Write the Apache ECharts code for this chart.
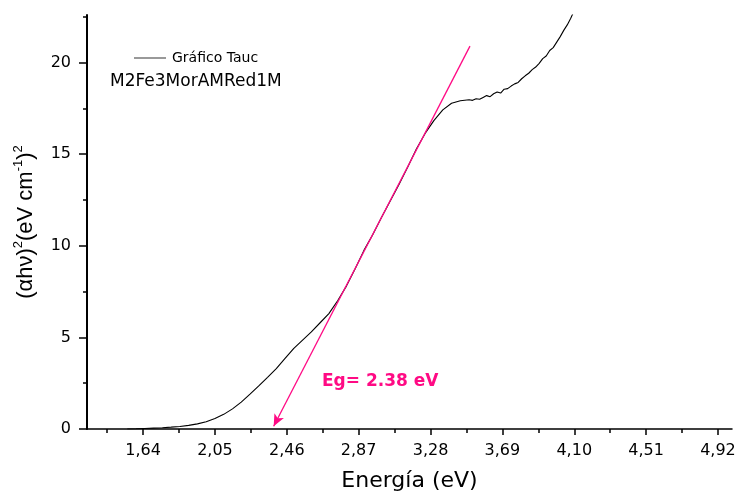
<!DOCTYPE html>
<html>
<head>
<meta charset="utf-8">
<script src="https://cdn.jsdelivr.net/npm/echarts@6/dist/echarts.min.js"></script>
<style>
html,body{margin:0;padding:0;background:#fff;}
#chart{width:740px;height:493px;}
</style>
</head>
<body>
<div id="chart"></div>
<script>
// Energy (eV) and Tauc values (αhν)^2
const energy = [1.55,1.60,1.65,1.70,1.75,1.80,1.85,1.90,1.95,2.00,2.05,2.10,2.15,2.20,2.25,2.30,2.35,2.40,2.45,2.50,2.55,2.60,2.65,2.70,2.75,2.80,2.85,2.90,2.95,3.00,3.05,3.10,3.15,3.20,3.25,3.30,3.35,3.40,3.45,3.50,3.52,3.54,3.56,3.58,3.60,3.62,3.64,3.66,3.68,3.70,3.72,3.74,3.76,3.78,3.80,3.82,3.84,3.86,3.88,3.90,3.92,3.94,3.96,3.98,4.00,4.02,4.04,4.06,4.08,4.10];
const tauc = [0.00,0.01,0.03,0.05,0.07,0.10,0.14,0.20,0.28,0.40,0.57,0.80,1.10,1.47,1.90,2.35,2.82,3.30,3.85,4.40,4.85,5.30,5.80,6.30,7.00,7.80,8.75,9.75,10.60,11.55,12.45,13.35,14.30,15.30,16.15,16.85,17.42,17.78,17.92,17.97,17.94,18.03,18.00,18.10,18.20,18.14,18.30,18.40,18.34,18.55,18.58,18.72,18.84,18.92,19.12,19.28,19.42,19.62,19.76,19.96,20.22,20.36,20.66,20.82,21.12,21.42,21.76,22.06,22.42,22.85];

// Tangent (linear fit) line: from top end down to the Eg intercept
const tangentTop = [3.505, 20.9];
const tangentBottom = [2.385, 0.15];
const egLabel = 'Eg= 2.38 eV';

const xTicks = [1.64,2.05,2.46,2.87,3.28,3.69,4.10,4.51,4.92];
const xMinorTicks = [1.435,1.845,2.255,2.665,3.075,3.485,3.895,4.305,4.715];
const yTicks = [0,5,10,15,20];
const yMinorTicks = [2.5,7.5,12.5,17.5,22.5];

const seriesName = 'Gráfico Tauc';
const sampleName = 'M2Fe3MorAMRed1M';

const pink = '#ff0a84';
const font = 'DejaVu Sans';

const chart = echarts.init(document.getElementById('chart'), null, {renderer:'canvas'});
chart.setOption({
  animation: false,
  backgroundColor: '#fff',
  grid: {left: 87, right: 8, top: 15, bottom: 64, outerBoundsMode: 'none'},
  legend: {
    data: [seriesName],
    left: 134, top: 51, padding: 0,
    icon: 'rect', itemWidth: 32, itemHeight: 1.2, itemGap: 5,
    itemStyle: {color: '#555'},
    textStyle: {fontFamily: font, fontSize: 14, color: '#000', padding: [0,0,0,1]}
  },
  graphic: [
    {type: 'text', x: 110, y: 82, style: {text: sampleName, fontFamily: font, fontSize: 17, fill: '#000', verticalAlign: 'middle'}},
    {type: 'text', x: 322, y: 382, style: {text: egLabel, fontFamily: font, fontWeight: 'bold', fontSize: 17, fill: pink, verticalAlign: 'middle'}}
  ],
  xAxis: [{
    type: 'value', min: 1.32, max: 5.0,
    name: 'Energía (eV)', nameLocation: 'middle', nameGap: 41,
    nameTextStyle: {fontFamily: font, fontSize: 22, color: '#000'},
    axisLine: {show: true, onZero: false, lineStyle: {color: '#000', width: 1.5}},
    axisTick: {show: true, customValues: xTicks, length: 6, lineStyle: {color: '#000', width: 1.5}},
    axisLabel: {customValues: xTicks, margin: 14, fontFamily: font, fontSize: 16, color: '#000',
      formatter: v => v.toFixed(2).replace('.', ',')},
    splitLine: {show: false}
  }, {
    type: 'value', min: 1.32, max: 5.0, position: 'bottom',
    axisLine: {show: false},
    axisTick: {show: true, customValues: xMinorTicks, length: 4, lineStyle: {color: '#000', width: 1.5}},
    axisLabel: {show: false},
    splitLine: {show: false}
  }],
  yAxis: [{
    type: 'value', min: 0, max: 22.6,
    name: '(αhν){s|2}(eV cm{s|-1}){s|2}', nameLocation: 'middle', nameGap: 48,
    nameTextStyle: {fontFamily: 'Liberation Sans', fontSize: 22, color: '#000',
      rich: {s: {fontFamily: 'Liberation Sans', fontSize: 13, color: '#000', padding: [0,0,14,0]}}},
    axisLine: {show: true, onZero: false, lineStyle: {color: '#000', width: 2}},
    axisTick: {show: true, customValues: yTicks, length: 8, lineStyle: {color: '#000', width: 1.5}},
    axisLabel: {customValues: yTicks, margin: 16, fontFamily: font, fontSize: 16, color: '#000'},
    splitLine: {show: false}
  }, {
    type: 'value', min: 0, max: 22.6, position: 'left',
    axisLine: {show: false},
    axisTick: {show: true, customValues: yMinorTicks, length: 4, lineStyle: {color: '#000', width: 1.5}},
    axisLabel: {show: false},
    splitLine: {show: false}
  }],
  series: [{
    name: seriesName,
    type: 'line',
    xAxisIndex: 0, yAxisIndex: 0,
    data: energy.map((e, i) => [e, tauc[i]]),
    showSymbol: false, symbol: 'none',
    lineStyle: {color: '#000', width: 1.1},
    itemStyle: {color: '#000'},
    clip: true,
    markLine: {
      silent: true,
      symbol: ['none', 'arrow'],
      symbolSize: [8, 12],
      label: {show: false},
      lineStyle: {color: pink, width: 1.3, type: 'solid'},
      data: [[{coord: tangentTop}, {coord: tangentBottom}]]
    }
  }]
});
</script>
</body>
</html>
